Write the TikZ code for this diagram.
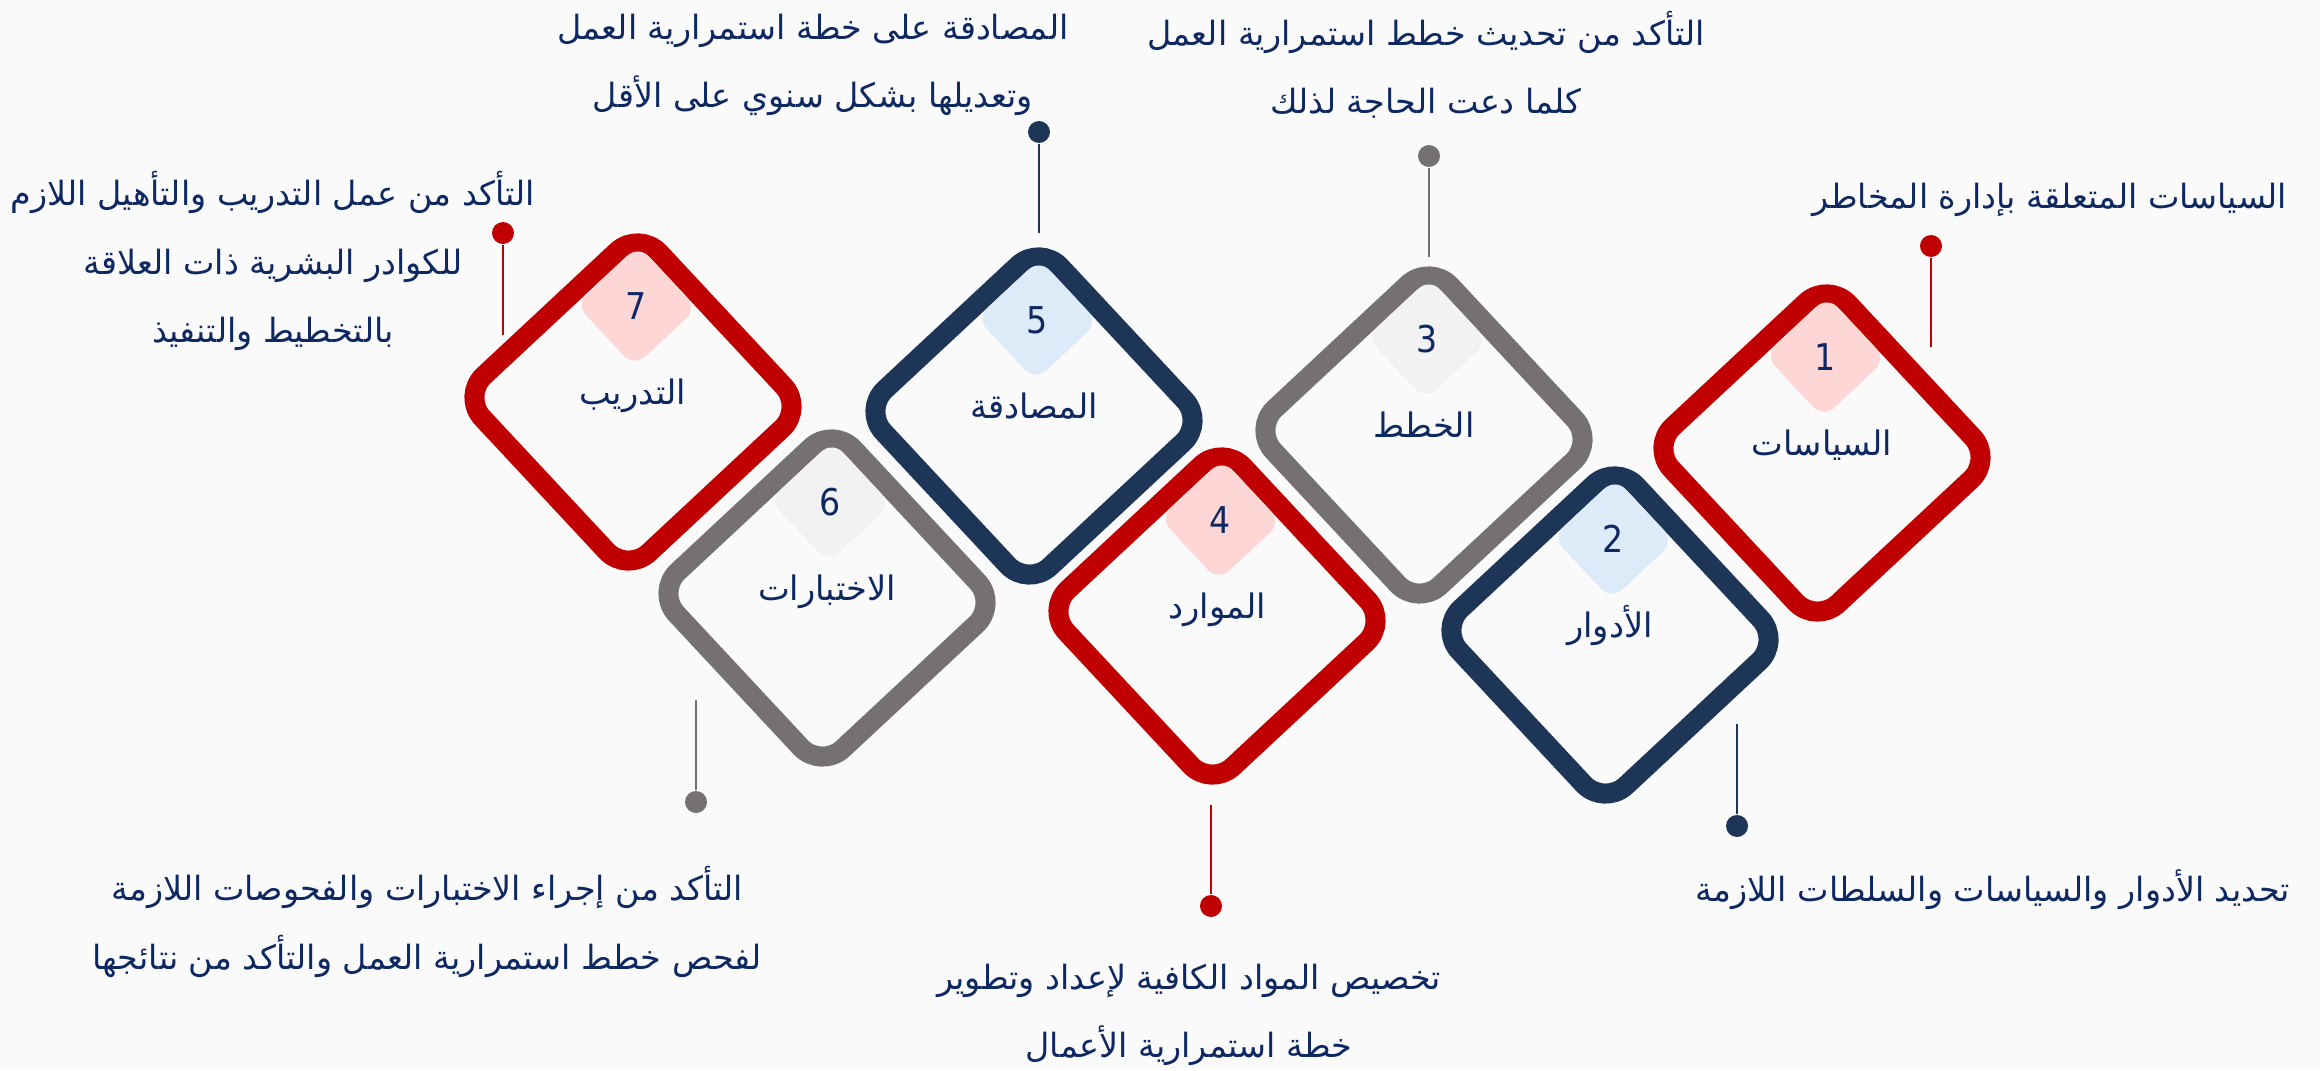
\documentclass[tikz,border=0pt]{standalone}
\usepackage{fontspec}
\newfontfamily\arabicfont[Script=Arabic]{DejaVu Sans}
\newfontfamily\numfont{DejaVu Sans Condensed}
\TeXXeTstate=1
\usetikzlibrary{calc}

\definecolor{cred}{HTML}{C00000}
\definecolor{cnavy}{HTML}{1D3557}
\definecolor{cgray}{HTML}{767171}
\definecolor{ctext}{HTML}{0E2861}
\definecolor{cpink}{HTML}{FFD6D6}
\definecolor{cblue}{HTML}{DDEAF7}
\definecolor{cgrey}{HTML}{F2F2F2}
\definecolor{cback}{HTML}{FAFAFA}

\begin{document}
\begin{tikzpicture}[tile/.style={draw, line width=2mm, fill=cback, rounded corners=3mm, minimum size=2.42cm, inner sep=0pt, rotate=43},
  badge/.style={rounded corners=1.5mm, minimum size=0.86cm, inner sep=0pt, rotate=43},
  num/.style={font=\numfont\fontsize{10.5}{12}\selectfont, text=ctext},
  word/.style={font=\arabicfont\fontsize{9.6}{12}\selectfont, text=ctext, anchor=base, yshift=-0.02cm},
  note/.style={font=\arabicfont\fontsize{9.5}{19.5}\selectfont, text=ctext, align=center},
  dot/.style={circle, inner sep=0pt, minimum size=2.2mm},
  stem/.style={line width=0.6pt}]

\useasboundingbox (0,0) rectangle (23.2,10.7);
\fill[cback] (0,0) rectangle (23.2,10.7);

   \node[tile, draw=cred] (d1) at (18.22,6.17) {};
   \node[tile, draw=cnavy] (d2) at (16.10,4.35) {};
   \node[tile, draw=cgray] (d3) at (14.24,6.35) {};
   \node[tile, draw=cred] (d4) at (12.17,4.54) {};
   \node[tile, draw=cnavy] (d5) at (10.34,6.54) {};
   \node[tile, draw=cgray] (d6) at (8.27,4.72) {};
   \node[tile, draw=cred] (d7) at (6.33,6.68) {};

   \node[badge, fill=cpink] (b1) at ($(d1)+(88:0.96)$) {};
   \node[badge, fill=cblue] (b2) at ($(d2)+(88:0.96)$) {};
   \node[badge, fill=cgrey] (b3) at ($(d3)+(88:0.96)$) {};
   \node[badge, fill=cpink] (b4) at ($(d4)+(88:0.96)$) {};
   \node[badge, fill=cblue] (b5) at ($(d5)+(88:0.96)$) {};
   \node[badge, fill=cgrey] (b6) at ($(d6)+(88:0.96)$) {};
   \node[badge, fill=cpink] (b7) at ($(d7)+(88:0.96)$) {};

   \begin{scope}[every node/.style={num}]
    \node (n1) at (b1) {1};
    \node (n2) at (b2) {2};
    \node (n3) at (b3) {3};
    \node (n4) at (b4) {4};
    \node (n5) at (b5) {5};
    \node (n6) at (b6) {6};
    \node (n7) at (b7) {7};
   \end{scope}

   \begin{scope}[every node/.style={word}]
    \node (w1) at (d1) {\beginR السياسات\endR};
    \node (w2) at (d2) {\beginR الأدوار\endR};
    \node (w3) at (d3) {\beginR الخطط\endR};
    \node (w4) at (d4) {\beginR الموارد\endR};
    \node (w5) at (d5) {\beginR المصادقة\endR};
    \node (w6) at (d6) {\beginR الاختبارات\endR};
    \node (w7) at (d7) {\beginR التدريب\endR};
   \end{scope}

   \node[dot, fill=cred] (p1) at (19.31,8.24) {};
   \node[dot, fill=cnavy] (p2) at (17.37,2.44) {};
   \node[dot, fill=cgray] (p3) at (14.29,9.14) {};
   \node[dot, fill=cred] (p4) at (12.11,1.64) {};
   \node[dot, fill=cnavy] (p5) at (10.39,9.38) {};
   \node[dot, fill=cgray] (p6) at (6.96,2.68) {};
   \node[dot, fill=cred] (p7) at (5.03,8.37) {};

   \coordinate (e1) at (19.31,7.23);
   \coordinate (e2) at (17.37,3.46);
   \coordinate (e3) at (14.29,8.13);
   \coordinate (e4) at (12.11,2.65);
   \coordinate (e5) at (10.39,8.37);
   \coordinate (e6) at (6.96,3.70);
   \coordinate (e7) at (5.03,7.35);

\draw[stem, cred] (p1) -- (e1);
\draw[stem, cnavy] (p2) -- (e2);
\draw[stem, cgray] (p3) -- (e3);
\draw[stem, cred] (p4) -- (e4);
\draw[stem, cnavy] (p5) -- (e5);
\draw[stem, cgray] (p6) -- (e6);
\draw[stem, cred] (p7) -- (e7);

   \begin{scope}[every node/.style={note}]
    \node (t1) at (20.50,8.70) {\beginR السياسات المتعلقة بإدارة المخاطر\endR};
    \node (t2) at (19.93,1.80) {\beginR تحديد الأدوار والسياسات والسلطات اللازمة\endR};
    \node (t3) at (14.26,10.05) {\beginR التأكد من تحديث خطط استمرارية العمل\endR\\\beginR كلما دعت الحاجة لذلك\endR};
    \node (t4) at (11.89,0.55) {\beginR تخصيص المواد الكافية لإعداد وتطوير\endR\\\beginR خطة استمرارية الأعمال\endR};
    \node (t5) at (8.13,10.05) {\beginR المصادقة على خطة استمرارية العمل\endR\\\beginR وتعديلها بشكل سنوي على الأقل\endR};
    \node (t6) at (4.27,1.48) {\beginR التأكد من إجراء الاختبارات والفحوصات اللازمة\endR\\\beginR لفحص خطط استمرارية العمل والتأكد من نتائجها\endR};
    \node (t7) at (2.73,8.09) {\beginR التأكد من عمل التدريب والتأهيل اللازم\endR\\\beginR للكوادر البشرية ذات العلاقة\endR\\\beginR بالتخطيط والتنفيذ\endR};
   \end{scope}
\end{tikzpicture}
\end{document}
